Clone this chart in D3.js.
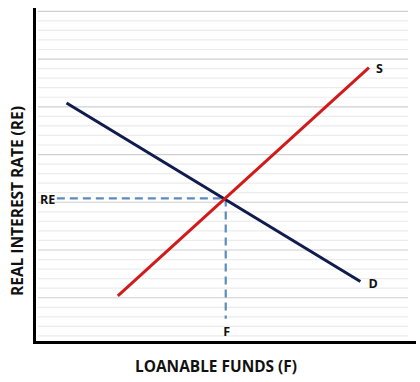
<!DOCTYPE html>
<html>
<head>
<meta charset="utf-8">
<script src="https://cdn.jsdelivr.net/npm/d3@7"></script>
<style>
  body { margin: 0; background: #fff; }
  text { font-family: "Open Sans", Lato, sans-serif; font-weight: bold; fill: #111; }
</style>
</head>
<body>
<div id="chart"></div>
<script>
// curve end points, in chart units (x: 0-100, y: 0-35 grid steps)
var demand = [[8.2, 25.4], [87.2, 6.7]];
var supply = [[22.0, 5.2], [89.5, 29.1]];
var equilibrium = [51.0, 15.4];
var curveLabels = ["S", "D"];
var axisTitles = ["LOANABLE FUNDS (F)", "REAL INTEREST RATE (RE)"];
var gridCount = 35;

(function () {
    var width = 420,
        height = 382;

    var svg = d3.select("#chart").append("svg")
        .attr("width", width)
        .attr("height", height);

    var x = d3.scaleLinear().domain([0, 100]).range([36, 408]);
    var y = d3.scaleLinear().domain([0, gridCount]).range([345.5, 11.3]);

    // grid lines, darker every fifth
    svg.append("g").selectAll("line")
        .data(d3.range(1, gridCount + 1))
        .enter().append("line")
        .attr("x1", 38)
        .attr("x2", 408)
        .attr("y1", function (d) { return y(d) })
        .attr("y2", function (d) { return y(d) })
        .attr("stroke", function (d) { return d % 5 === 0 ? "#cfcfcf" : "#ececec" })
        .attr("stroke-width", 1.2)

    var line = d3.line()
        .x(function (d) { return x(d[0]) })
        .y(function (d) { return y(d[1]) })

    // dashed guides to the equilibrium
    var dash = "8,5";
    svg.append("path")
        .attr("d", line([[5.6, equilibrium[1]], equilibrium]))
        .attr("stroke", "#5b8cbb").attr("stroke-width", 2.2)
        .attr("stroke-dasharray", dash).attr("fill", "none")
    svg.append("path")
        .attr("d", line([equilibrium, [equilibrium[0], 2.8]]))
        .attr("stroke", "#5b8cbb").attr("stroke-width", 2.2)
        .attr("stroke-dasharray", dash).attr("fill", "none")

    svg.append("path")
        .attr("d", line(demand))
        .attr("stroke", "#0f1c4d").attr("stroke-width", 3).attr("fill", "none")
    svg.append("path")
        .attr("d", line(supply))
        .attr("stroke", "#d11a1a").attr("stroke-width", 3).attr("fill", "none")

    // axes
    svg.append("line")
        .attr("x1", 34.5).attr("x2", 34.5)
        .attr("y1", 8).attr("y2", 344)
        .attr("stroke", "#000").attr("stroke-width", 3)
    svg.append("line")
        .attr("x1", 33).attr("x2", 416)
        .attr("y1", 342.5).attr("y2", 342.5)
        .attr("stroke", "#000").attr("stroke-width", 3)

    // labels
    svg.append("text")
        .attr("x", x(supply[1][0]) + 7).attr("y", y(supply[1][1]) + 5)
        .attr("font-size", 12.5).text(curveLabels[0])
    svg.append("text")
        .attr("x", x(demand[1][0]) + 8).attr("y", y(demand[1][1]) + 6)
        .attr("font-size", 12.5).text(curveLabels[1])
    svg.append("text")
        .attr("x", 40).attr("y", y(equilibrium[1]) + 6)
        .attr("font-size", 12.5).text("RE")
    svg.append("text")
        .attr("x", x(equilibrium[0]) + 1).attr("y", 336)
        .attr("text-anchor", "middle")
        .attr("font-size", 12.5).text("F")

    svg.append("text")
        .attr("x", 216).attr("y", 372)
        .attr("text-anchor", "middle")
        .attr("font-size", 16.5)
        .attr("textLength", 162).attr("lengthAdjust", "spacingAndGlyphs")
        .text(axisTitles[0])
    svg.append("text")
        .attr("transform", "translate(23,201) rotate(-90)")
        .attr("text-anchor", "middle")
        .attr("font-size", 16.5)
        .attr("textLength", 190).attr("lengthAdjust", "spacingAndGlyphs")
        .text(axisTitles[1])
})();
</script>
</body>
</html>
